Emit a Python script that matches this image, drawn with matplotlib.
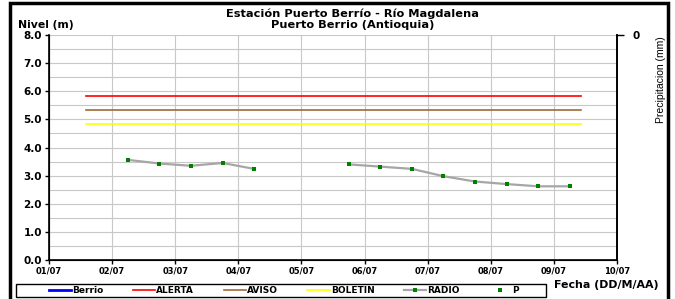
import numpy as np
import pandas as pd
import matplotlib
matplotlib.use('Agg')
import matplotlib.pyplot as plt
import matplotlib.dates as mdates
from matplotlib.patches import Rectangle

plt.rcParams['font.family'] = ['DejaVu Sans']

# water level readings (RADIO), every 12 h, NaN = no reading
radio_times = pd.to_datetime([
    '2014-07-02 06:00', '2014-07-02 18:00', '2014-07-03 06:00',
    '2014-07-03 18:00', '2014-07-04 06:00', '2014-07-04 18:00',
    '2014-07-05 06:00', '2014-07-05 18:00', '2014-07-06 06:00',
    '2014-07-06 18:00', '2014-07-07 06:00', '2014-07-07 18:00',
    '2014-07-08 06:00', '2014-07-08 18:00', '2014-07-09 06:00'])
radio_levels = [3.56, 3.43, 3.35, 3.45, 3.24, np.nan, np.nan,
                3.40, 3.32, 3.24, 2.98, 2.79, 2.70, 2.62, 2.62]

# threshold levels
threshold_times = pd.to_datetime(['2014-07-01 14:00', '2014-07-09 10:20'])
alerta = 5.82
aviso = 5.33
boletin = 4.83

x_start = pd.Timestamp('2014-07-01')
x_end = pd.Timestamp('2014-07-10')

fig = plt.figure(figsize=(6.75, 2.99), dpi=100)
ax = fig.add_axes([49 / 675, 1 - 260 / 299, 568 / 675, 225 / 299])

ax.plot([], [], color='#0000ff', lw=2, label='Berrio')
ax.plot(threshold_times, [alerta] * 2, color='#ff0000', lw=1.2, label='ALERTA')
ax.plot(threshold_times, [aviso] * 2, color='#a0693c', lw=1.2, label='AVISO')
ax.plot(threshold_times, [boletin] * 2, color='#ffff00', lw=1.2, label='BOLETIN')
ax.plot(radio_times, radio_levels, color='#a6a6a6', lw=1.6,
        marker='s', ms=2.4, mew=0, mfc='#008000', label='RADIO')
ax.plot([], [], ls='none', marker='s', ms=2.4, mew=0, color='#008000',
        label='P')

ax.set_xlim(x_start, x_end)
ax.set_ylim(0, 8)
ax.xaxis.set_major_locator(mdates.DayLocator())
ax.xaxis.set_major_formatter(mdates.DateFormatter('%d/%m'))
ax.set_yticks(np.arange(0, 8.1, 1.0))
ax.set_yticks(np.arange(0, 8.1, 0.5), minor=True)
ax.yaxis.set_major_formatter(matplotlib.ticker.FormatStrFormatter('%.1f'))
ax.grid(True, which='both', axis='y', color='#c8c8c8', lw=0.8)
ax.grid(True, which='major', axis='x', color='#c8c8c8', lw=0.8)
ax.set_axisbelow(True)
ax.tick_params(axis='y', which='minor', length=0)
ax.tick_params(axis='both', which='major', length=3, width=1, direction='out')
ax.tick_params(axis='y', labelsize=7.5, pad=2)
ax.tick_params(axis='x', labelsize=6, pad=2)
for lab in ax.get_xticklabels() + ax.get_yticklabels():
    lab.set_fontweight('bold')
ax.spines['top'].set_visible(False)
for s in ['left', 'bottom', 'right']:
    ax.spines[s].set_linewidth(1.2)

ax2 = ax.twinx()
ax2.set_ylim(10, 0)
ax2.set_yticks([0])
ax2.set_yticklabels(['0'], fontweight='bold', fontsize=7.5)
ax2.tick_params(axis='y', length=5, width=1, pad=6)
ax2.spines['top'].set_visible(False)
ax2.spines['right'].set_linewidth(1.2)
ax2.set_ylabel('Precipitacion (mm)', fontsize=7.5,
               family=['Liberation Sans Narrow', 'Liberation Sans'])
ax2.yaxis.set_label_coords(1.068, 0.80)

fig.text(353 / 675, 1 - 14 / 299, 'Estación Puerto Berrío - Río Magdalena',
         ha='center', va='center', fontsize=8.2, fontweight='bold')
fig.text(353 / 675, 1 - 24.5 / 299, 'Puerto Berrio (Antioquia)',
         ha='center', va='center', fontsize=8.2, fontweight='bold')
fig.text(18 / 675, 1 - 25 / 299, 'Nivel (m)', ha='left', va='center',
         fontsize=7.8, fontweight='bold')
fig.text(606 / 675, 1 - 285 / 299, 'Fecha (DD/M/AA)', ha='center',
         va='center', fontsize=7.9, fontweight='bold')

leg = fig.legend(*ax.get_legend_handles_labels(), loc='lower left',
                 bbox_to_anchor=(48 / 675, 3 / 299, 472 / 675, 12 / 299),
                 mode='expand', ncol=6, frameon=False, borderpad=0.1,
                 handlelength=2.5, handletextpad=0.1,
                 prop={'weight': 'bold', 'size': 6.5}, borderaxespad=0)

fig.patches.append(Rectangle((16 / 675, 2 / 299), 530 / 675, 13 / 299,
                             fill=False, lw=1.0, edgecolor='black',
                             transform=fig.transFigure, figure=fig))
fig.patches.append(Rectangle((10 / 675, -0.05), 658 / 675, 1.04, fill=False,
                             lw=2.5, edgecolor='black',
                             transform=fig.transFigure, figure=fig))

fig.savefig('out.png', dpi=100)
